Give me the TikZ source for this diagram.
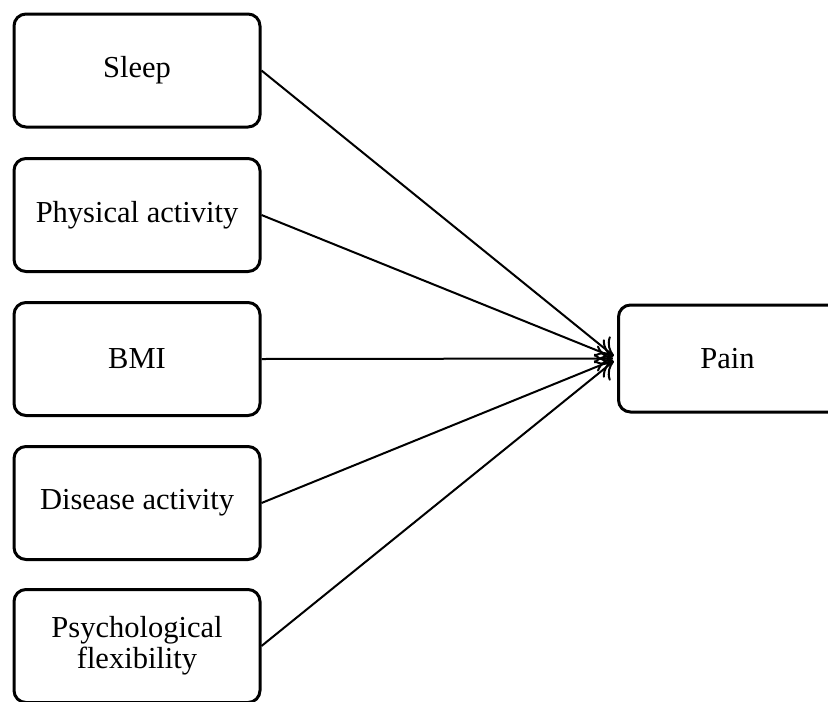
\documentclass[tikz,border=0pt]{standalone}
\usepackage{fontspec}
\setmainfont{Liberation Serif}
\usetikzlibrary{arrows.meta}
\begin{document}
\begin{tikzpicture}[x=1pt,y=-1pt,
  box/.style={draw, line width=3pt, rounded corners=12pt, minimum width=246pt, minimum height=113pt, align=center, font=\fontsize{30.5}{31}\selectfont, inner sep=0pt},
  pbox/.style={box, minimum width=240pt, minimum height=107pt},
  conn/.style={line width=2pt, -{To[length=16pt,width=26pt,line width=2pt]}, shorten >=4pt}]
\useasboundingbox (0,0) rectangle (828,702);
\clip (0,0) rectangle (828,702);
\node[box] (sleep) at (137,70.5) {Sleep};
\node[box] (pa) at (137,215) {Physical activity};
\node[box] (bmi) at (137,359) {BMI};
\node[box] (dis) at (137,503) {Disease activity};
\node[box] (psy) at (137,646) {Psychological\\flexibility};
\node[pbox,anchor=west] (pain) at (617,358.5) {\hspace*{-22pt}Pain};
\foreach \n in {sleep,pa,bmi,dis,psy}
  \draw[conn] (\n.east) -- (pain.west);
\end{tikzpicture}
\end{document}
